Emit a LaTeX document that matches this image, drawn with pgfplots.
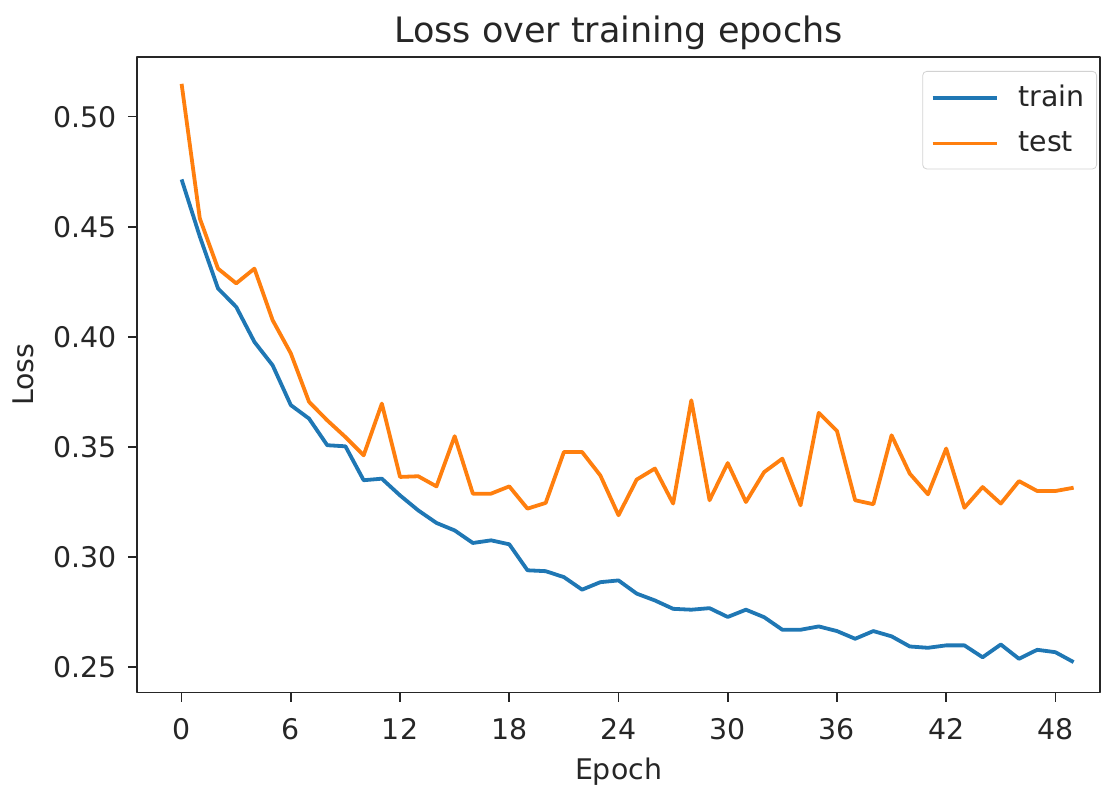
\documentclass[border=0pt]{standalone}
\usepackage{fontspec}
\setmainfont{DejaVu Sans}
\usepackage{pgfplots}
\pgfplotsset{compat=1.18}
\definecolor{mplblue}{HTML}{1F77B4}
\definecolor{mplorange}{HTML}{FF7F0E}
\definecolor{txt}{HTML}{262626}
\begin{document}
\begin{tikzpicture}
\useasboundingbox (0,0) rectangle (555pt,394pt);
\begin{axis}[
  at={(68.5pt,47.75pt)}, anchor=south west,
  scale only axis, width=481.5pt, height=317.75pt,
  xmin=-2.45, xmax=50.45, ymin=0.2385, ymax=0.5271,
  xtick={0,6,...,48}, ytick={0.25,0.30,...,0.51},
  tick align=outside, major tick length=4.5pt,
  xtick pos=bottom, ytick pos=left,
  /pgf/number format/assume math mode=true,
  yticklabel style={/pgf/number format/fixed, /pgf/number format/fixed zerofill, /pgf/number format/precision=2, xshift=-2pt},
  ticklabel style={font=\fontsize{14.2}{16}\selectfont, text=txt},
  xticklabel style={yshift=-5pt},
  axis line style={draw=txt, line width=0.8pt},
  every tick/.style={draw=txt, line width=0.8pt},
  title={Loss over training epochs},
  title style={font=\fontsize{17.5}{20}\selectfont, text=txt, yshift=-6pt},
  xlabel={Epoch}, ylabel={Loss},
  label style={font=\fontsize{14.2}{16}\selectfont, text=txt},
  xlabel style={yshift=-2pt},
  ylabel style={yshift=3pt},
  legend style={at={(1,1)}, anchor=north east, xshift=-1.5pt, yshift=-7pt,
    draw=gray!35, rounded corners=2pt, font=\fontsize{14.2}{16}\selectfont,
    text=txt, row sep=7pt, inner xsep=4pt, inner ysep=5pt},
  legend cell align=left,
  legend image code/.code={\draw[#1] (0pt,0pt) -- (32pt,0pt); \path (40pt,0pt);},
  line join=round,
]
\addplot[mplblue, line width=1.9pt] coordinates {
(0,0.4715) (1,0.4456) (2,0.4220) (3,0.4136) (4,0.3977) (5,0.3871) (6,0.3690) (7,0.3629) (8,0.3508) (9,0.3503)
(10,0.3349) (11,0.3356) (12,0.3280) (13,0.3212) (14,0.3155) (15,0.3121) (16,0.3064) (17,0.3076) (18,0.3058) (19,0.2940)
(20,0.2936) (21,0.2909) (22,0.2852) (23,0.2886) (24,0.2894) (25,0.2834) (26,0.2803) (27,0.2765) (28,0.2761) (29,0.2768)
(30,0.2728) (31,0.2761) (32,0.2727) (33,0.2670) (34,0.2670) (35,0.2685) (36,0.2664) (37,0.2629) (38,0.2664) (39,0.2640)
(40,0.2594) (41,0.2588) (42,0.2599) (43,0.2599) (44,0.2545) (45,0.2603) (46,0.2538) (47,0.2579) (48,0.2568) (49,0.2523)
};
\addlegendentry{train}
\addplot[mplorange, line width=1.9pt] coordinates {
(0,0.5149) (1,0.4538) (2,0.4310) (3,0.4243) (4,0.4310) (5,0.4076) (6,0.3925) (7,0.3705) (8,0.3621) (9,0.3545)
(10,0.3462) (11,0.3697) (12,0.3364) (13,0.3367) (14,0.3321) (15,0.3549) (16,0.3288) (17,0.3288) (18,0.3321) (19,0.3220)
(20,0.3246) (21,0.3477) (22,0.3477) (23,0.3371) (24,0.3190) (25,0.3352) (26,0.3402) (27,0.3243) (28,0.3712) (29,0.3258)
(30,0.3427) (31,0.3250) (32,0.3386) (33,0.3447) (34,0.3235) (35,0.3655) (36,0.3573) (37,0.3258) (38,0.3240) (39,0.3553)
(40,0.3379) (41,0.3285) (42,0.3493) (43,0.3224) (44,0.3318) (45,0.3243) (46,0.3345) (47,0.3300) (48,0.3300) (49,0.3315)
};
\addlegendentry{test}
\end{axis}
\end{tikzpicture}
\end{document}
